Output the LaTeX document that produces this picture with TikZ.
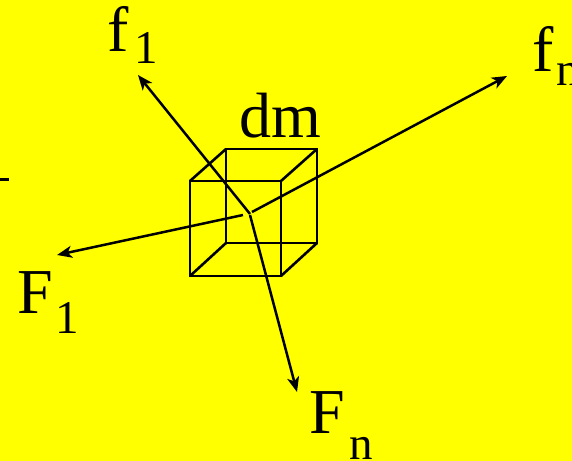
\documentclass[tikz,border=0pt]{standalone}
\usepackage{fontspec}
\setmainfont{Liberation Serif}
\usetikzlibrary{arrows.meta}
\definecolor{bgyellow}{RGB}{255,255,0}
\tikzset{
  cubeline/.style={draw=black,line width=2.6bp,line cap=round,line join=round},
  forcearrow/.style={draw=black,line width=2.5bp,-{Stealth[length=15bp,width=12bp,inset=4bp]}},
  biglabel/.style={anchor=base west,inner sep=0pt,outer sep=0pt,font=\fontsize{64bp}{64bp}\selectfont},
  sublabel/.style={anchor=base west,inner sep=0pt,outer sep=0pt,font=\fontsize{47bp}{47bp}\selectfont}
}
\begin{document}
\begin{tikzpicture}[x=1bp,y=-1bp]
\path[use as bounding box] (0,0) rectangle (572,461);
\clip (0,0) rectangle (572,461);
\fill[bgyellow] (0,0) rectangle (572,461);
% cube corners
\coordinate (fa) at (190,181);
\coordinate (fb) at (281,181);
\coordinate (fc) at (281,276);
\coordinate (fd) at (190,276);
\coordinate (ba) at (226,149);
\coordinate (bb) at (317,149);
\coordinate (bc) at (317,243);
\coordinate (bd) at (226,243);
\draw[cubeline] (fa) -- (fb) -- (fc) -- (fd) -- cycle;
\draw[cubeline] (ba) -- (bb) -- (bc) -- (bd) -- cycle;
\draw[cubeline] (fa) -- (ba);
\draw[cubeline] (fb) -- (bb);
\draw[cubeline] (fc) -- (bc);
\draw[cubeline] (fd) -- (bd);
% arrows
\coordinate (o1) at (250,214);
\coordinate (o2) at (250,215);
\coordinate (o3) at (252,212);
\coordinate (o4) at (243,215);
\coordinate (t1) at (138,75);
\coordinate (t2) at (297,392);
\coordinate (t3) at (507,76);
\coordinate (t4) at (57,255);
\draw[forcearrow] (o1) -- (t1);
\draw[forcearrow] (o2) -- (t2);
\draw[forcearrow] (o3) -- (t3);
\draw[forcearrow] (o4) -- (t4);
% tick at left edge
\coordinate (k1) at (0,179.5);
\coordinate (k2) at (9,179.5);
\draw[line width=2.6bp] (k1) -- (k2);
% labels
\node[biglabel] (dm) at (239,138) {dm};
\node[biglabel] (f1) at (107,52) {f};
\node[sublabel] (f1s) at (134,64) {1};
\node[biglabel] (fn) at (532,72) {f};
\node[sublabel] (fns) at (556,86) {n};
\node[biglabel] (F1) at (17,313) {F};
\node[sublabel] (F1s) at (55,333) {1};
\node[biglabel] (Fn) at (309,433) {F};
\node[sublabel] (Fns) at (349,459) {n};
\end{tikzpicture}
\end{document}
